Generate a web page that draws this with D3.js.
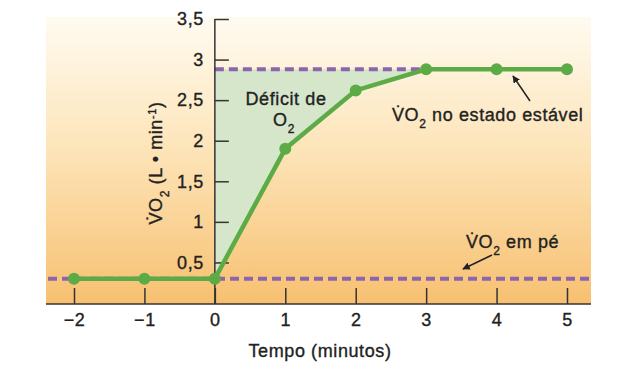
<!DOCTYPE html>
<html>
<head>
<meta charset="utf-8">
<script src="https://cdn.jsdelivr.net/npm/d3@7"></script>
<style>
  body { margin: 0; background: #fff; }
  text { font-family: "Liberation Sans", Arial, sans-serif; fill: #222; stroke: #222; stroke-width: 0.35px; letter-spacing: 0.6px; }
</style>
</head>
<body>
<div id="chart"></div>
<script>
// data
var tempo = [-2, -1, 0, 1, 2, 3, 4, 5];
var vo2 = [0.3, 0.3, 0.3, 1.9, 2.62, 2.88, 2.88, 2.88];
var vo2Repouso = 0.3;      // VO2 em pé
var vo2Estavel = 2.88;     // VO2 no estado estável
var yTicks = [0.5, 1, 1.5, 2, 2.5, 3, 3.5];
var xTicks = [-2, -1, 0, 1, 2, 3, 4, 5];

var width = 629, height = 365;
var panel = { left: 46, right: 591, top: 17, bottom: 304 };
var fs = "18px", fsSub = "12px";

var svg = d3.select("#chart").append("svg")
    .attr("width", width)
    .attr("height", height);

var x = d3.scaleLinear().domain([-2, 5]).range([74, 567]);
var y = d3.scaleLinear().domain([0, 3.5]).range([303, 19]);

// background gradient
var defs = svg.append("defs");
var grad = defs.append("linearGradient")
    .attr("id", "bg").attr("x1", 0).attr("y1", 0).attr("x2", 0).attr("y2", 1);
grad.append("stop").attr("offset", "0%").attr("stop-color", "#fffbf1");
grad.append("stop").attr("offset", "45%").attr("stop-color", "#fde5ba");
grad.append("stop").attr("offset", "100%").attr("stop-color", "#f7c070");

defs.append("marker")
    .attr("id", "arrow")
    .attr("viewBox", "0 0 10 10")
    .attr("refX", 9).attr("refY", 5)
    .attr("markerWidth", 5).attr("markerHeight", 5)
    .attr("orient", "auto")
    .append("path")
    .attr("d", "M0,0 L10,5 L0,10 z")
    .attr("fill", "#222");

svg.append("rect")
    .attr("x", panel.left).attr("y", panel.top)
    .attr("width", panel.right - panel.left)
    .attr("height", panel.bottom - panel.top)
    .attr("fill", "url(#bg)");

var data = tempo.map(function (t, i) { return { t: t, v: vo2[i] }; });

// O2 deficit area
var area = d3.area()
    .x(function (d) { return x(d.t); })
    .y0(function () { return y(vo2Estavel); })
    .y1(function (d) { return y(d.v); });

svg.append("path")
    .datum(data.filter(function (d) { return d.t >= 0 && d.t <= 3; }))
    .attr("d", area)
    .attr("fill", "#d6e6cb");

// dashed reference lines
svg.append("line")
    .attr("x1", panel.left + 2).attr("x2", panel.right - 2)
    .attr("y1", y(vo2Repouso)).attr("y2", y(vo2Repouso))
    .attr("stroke", "#8c66ad").attr("stroke-width", 4)
    .attr("stroke-dasharray", "9,5");

svg.append("line")
    .attr("x1", x(0)).attr("x2", x(3))
    .attr("y1", y(vo2Estavel)).attr("y2", y(vo2Estavel))
    .attr("stroke", "#8c66ad").attr("stroke-width", 4)
    .attr("stroke-dasharray", "9,5");

// axes
var yAxis = svg.append("g")
    .attr("transform", "translate(" + x(0) + ",0)")
    .call(d3.axisLeft(y).tickValues(yTicks)
        .tickSizeInner(-14).tickSizeOuter(0).tickPadding(11)
        .tickFormat(function (d) { return String(d).replace(".", ","); }));
yAxis.select(".domain").remove();
yAxis.append("line")
    .attr("y1", y(3.5)).attr("y2", panel.bottom)
    .attr("stroke", "#333").attr("stroke-width", 1.5);
yAxis.selectAll(".tick line").attr("stroke", "#333").attr("stroke-width", 1.5);
yAxis.selectAll("text").style("font-size", fs).attr("fill", "#222");

var xAxis = svg.append("g")
    .attr("transform", "translate(0," + panel.bottom + ")")
    .call(d3.axisBottom(x).tickValues(xTicks)
        .tickSizeInner(-16).tickSizeOuter(0).tickPadding(9)
        .tickFormat(function (d) { return d < 0 ? "\u2212" + Math.abs(d) : d; }));
xAxis.select(".domain").remove();
xAxis.append("line")
    .attr("x1", panel.left).attr("x2", panel.right)
    .attr("stroke", "#333").attr("stroke-width", 1.5);
xAxis.selectAll(".tick line").attr("stroke", "#333").attr("stroke-width", 1.5);
xAxis.selectAll("text").style("font-size", fs).attr("fill", "#222");

// VO2 line + points
var line = d3.line()
    .x(function (d) { return x(d.t); })
    .y(function (d) { return y(d.v); });

svg.append("path")
    .datum(data)
    .attr("d", line)
    .attr("fill", "none")
    .attr("stroke", "#5cab47")
    .attr("stroke-width", 4.5);

svg.selectAll(".pt")
    .data(data)
    .enter()
    .append("circle")
    .attr("class", "pt")
    .attr("cx", function (d) { return x(d.t); })
    .attr("cy", function (d) { return y(d.v); })
    .attr("r", 6)
    .attr("fill", "#5cab47");

// labels
svg.append("text")
    .attr("x", 320).attr("y", 357)
    .attr("text-anchor", "middle")
    .style("font-size", fs)
    .text("Tempo (minutos)");

var ylab = svg.append("text")
    .attr("transform", "translate(162,163) rotate(-90)")
    .attr("text-anchor", "middle")
    .style("font-size", fs);
ylab.append("tspan").text("V\u0307O");
ylab.append("tspan").attr("baseline-shift", "sub").style("font-size", fsSub).text("2");
ylab.append("tspan").text(" (L \u2022 min");
ylab.append("tspan").attr("baseline-shift", "super").style("font-size", "11px").text("-1");
ylab.append("tspan").text(")");

svg.append("text")
    .attr("x", 286).attr("y", 105)
    .attr("text-anchor", "middle")
    .style("font-size", fs)
    .text("Déficit de");
var o2 = svg.append("text")
    .attr("x", 284).attr("y", 126)
    .attr("text-anchor", "middle")
    .style("font-size", fs);
o2.append("tspan").text("O");
o2.append("tspan").attr("baseline-shift", "sub").style("font-size", fsSub).text("2");

var est = svg.append("text")
    .attr("x", 392).attr("y", 121)
    .style("font-size", fs);
est.append("tspan").text("V\u0307O");
est.append("tspan").attr("baseline-shift", "sub").style("font-size", fsSub).text("2");
est.append("tspan").text(" no estado estável");

var pe = svg.append("text")
    .attr("x", 466).attr("y", 248)
    .style("font-size", fs);
pe.append("tspan").text("V\u0307O");
pe.append("tspan").attr("baseline-shift", "sub").style("font-size", fsSub).text("2");
pe.append("tspan").text(" em pé");

// arrows
svg.append("line")
    .attr("x1", 530).attr("y1", 101).attr("x2", 513).attr("y2", 76)
    .attr("stroke", "#222").attr("stroke-width", 1.5)
    .attr("marker-end", "url(#arrow)");
svg.append("line")
    .attr("x1", 492).attr("y1", 255).attr("x2", 463).attr("y2", 269)
    .attr("stroke", "#222").attr("stroke-width", 1.5)
    .attr("marker-end", "url(#arrow)");
</script>
</body>
</html>
